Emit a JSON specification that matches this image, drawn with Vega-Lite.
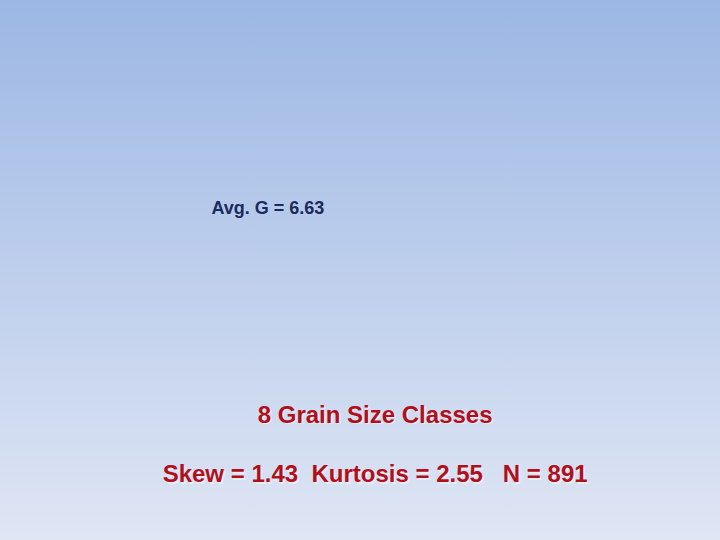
{
  "$schema": "https://vega.github.io/schema/vega-lite/v6.json",
  "width": 720,
  "height": 540,
  "autosize": {"type": "fit", "contains": "padding"},
  "padding": 0,
  "background": "#dfe6f4",
  "config": {"view": {"stroke": null}},
  "data": {
    "values": [
      {"label": "Avg. G = 6.63", "px": 37.2, "py": 39.6},
      {"label": "8 Grain Size Classes", "px": 52.1, "py": 78.3},
      {"label": "Skew = 1.43  Kurtosis = 2.55   N = 891", "px": 52.1, "py": 89.3}
    ]
  },
  "encoding": {
    "x": {"field": "px", "type": "quantitative", "scale": {"domain": [0, 100]}, "axis": null},
    "y": {"field": "py", "type": "quantitative", "scale": {"domain": [0, 100], "reverse": true}, "axis": null},
    "text": {"field": "label", "type": "nominal"}
  },
  "layer": [
    {
      "mark": {
        "type": "rect",
        "color": {
          "gradient": "linear",
          "x1": 0, "y1": 0, "x2": 0, "y2": 1,
          "stops": [
            {"offset": 0, "color": "#9cb7e4"},
            {"offset": 1, "color": "#dfe6f4"}
          ]
        }
      },
      "encoding": {"x": null, "y": null, "text": null}
    },
    {
      "transform": [{"filter": "datum.label == 'Avg. G = 6.63'"}],
      "mark": {"type": "text", "font": "Liberation Sans", "fontWeight": "bold", "fontSize": 18, "color": "#1b2a5c", "align": "center", "baseline": "alphabetic"}
    },
    {
      "transform": [
        {"filter": "datum.label != 'Avg. G = 6.63'"},
        {"calculate": "replace(datum.label, / (?= )/g, '\u00a0')", "as": "label"}
      ],
      "mark": {"type": "text", "font": "Liberation Sans", "fontWeight": "bold", "fontSize": 24, "color": "#e9ecf3", "align": "center", "baseline": "alphabetic", "dx": 1.5, "dy": 1.5}
    },
    {
      "transform": [
        {"filter": "datum.label != 'Avg. G = 6.63'"},
        {"calculate": "replace(datum.label, / (?= )/g, '\u00a0')", "as": "label"}
      ],
      "mark": {"type": "text", "font": "Liberation Sans", "fontWeight": "bold", "fontSize": 24, "color": "#b0101c", "align": "center", "baseline": "alphabetic"}
    }
  ]
}
